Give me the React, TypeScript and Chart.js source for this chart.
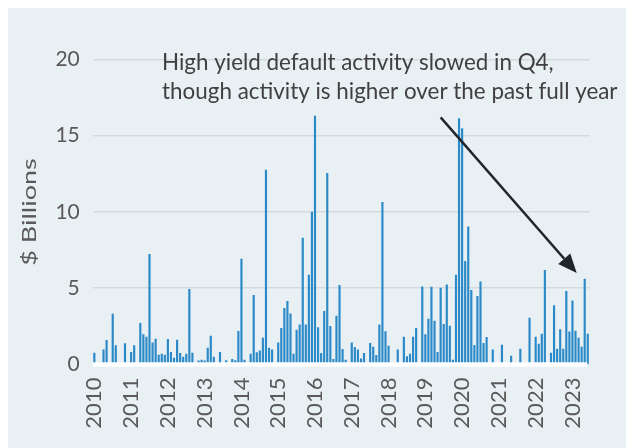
import { useEffect, useRef } from "react";
import { Chart, registerables } from "chart.js";

Chart.register(...registerables);

const years = ["2010","2011","2012","2013","2014","2015","2016","2017","2018","2019","2020","2021","2022","2023"];
const monthNames = ["01","02","03","04","05","06","07","08","09","10","11","12"];

// Monthly high yield default volume, $ billions (Jan 2010 - Jun 2023)
const defaultVolume = [
  0.76, 0, 0, 0.96, 1.59, 0, 3.31, 1.24, 0, 0, 1.37, 0,
  0.8, 1.24, 0, 2.7, 1.96, 1.81, 7.22, 1.43, 1.68, 0.63, 0.69, 0.63,
  1.66, 0.8, 0.43, 1.61, 0.74, 0.5, 0.69, 4.93, 0.76, 0, 0.24, 0.3,
  0.24, 1.09, 1.87, 0.5, 0, 0.8, 0, 0.26, 0, 0.35, 0.26, 2.18,
  6.92, 0.3, 0, 0.69, 4.54, 0.78, 0.91, 1.74, 12.74, 1.09, 0.96, 0,
  1.43, 2.38, 3.69, 4.14, 3.33, 0.69, 2.27, 2.61, 8.29, 2.61, 5.87, 10.0,
  16.28, 2.42, 0.74, 3.49, 12.53, 2.5, 0.35, 3.18, 5.19, 1.0, 0.3, 0,
  1.43, 1.13, 0.96, 0.37, 0.74, 0, 1.39, 1.15, 0.61, 2.61, 10.63, 2.16,
  1.22, 0, 0, 0.96, 0, 1.81, 0.52, 0.69, 1.81, 2.38, 0, 5.1,
  1.96, 2.99, 5.08, 2.86, 0.8, 5.02, 2.64, 5.23, 2.53, 0.3, 5.86, 16.13,
  15.47, 6.77, 9.03, 4.86, 1.26, 4.47, 5.43, 1.39, 1.79, 0, 0.96, 0,
  0, 1.28, 0, 0, 0.56, 0, 0, 1.02, 0, 0, 3.05, 0,
  1.81, 1.35, 2.0, 6.17, 0, 0.76, 3.86, 1.02, 2.29, 1.02, 4.8, 2.14,
  4.18, 2.2, 1.74, 1.15, 5.6, 2.0,
];

const yMin = 0;
const yMax = 20;
const yStep = 5;
const yTitle = "$ Billions";
const noteLines = [
  "High yield default activity slowed in Q4,",
  "though activity is higher over the past full year",
];
// annotation anchors in data space: [category index, value]
const noteAnchor = [22.1, 19.8];
const noteLine2Value = 17.85;
const arrowFrom = [113, 16.2];
const arrowTo = [157.4, 6.0];

const categories = defaultVolume.map(
  (_, i) => `${years[Math.floor(i / 12)]}-${monthNames[i % 12]}`
);

const FONT = "Lato, 'Open Sans', sans-serif";

export default function App() {
  const ref = useRef<HTMLCanvasElement | null>(null);

  useEffect(() => {
    if (!ref.current) return;

    const overlay = {
      id: "overlay",
      afterDatasetsDraw(chart: any) {
        const { ctx, chartArea } = chart;
        ctx.save();
        ctx.strokeStyle = "#ffffff";
        ctx.lineWidth = 4.5;
        ctx.beginPath();
        ctx.moveTo(chartArea.left, chartArea.bottom);
        ctx.lineTo(chartArea.right - 2, chartArea.bottom);
        ctx.stroke();
        ctx.restore();
      },
      afterDraw(chart: any) {
        const { ctx, chartArea } = chart;
        const xs = chart.scales.x;
        const ys = chart.scales.y;
        ctx.save();

        // y axis title (rotated, slightly elongated)
        ctx.save();
        ctx.translate(22, (chartArea.top + chartArea.bottom) / 2);
        ctx.rotate(-Math.PI / 2);
        ctx.scale(1.42, 1);
        ctx.fillStyle = "#595959";
        ctx.font = `19px ${FONT}`;
        ctx.textAlign = "center";
        ctx.textBaseline = "middle";
        ctx.fillText(yTitle, 0, 0);
        ctx.restore();

        ctx.fillStyle = "#404040";
        ctx.font = `22.4px ${FONT}`;
        ctx.textBaseline = "middle";
        ctx.textAlign = "left";
        const tx = xs.getPixelForValue(noteAnchor[0]);
        ctx.fillText(noteLines[0], tx, ys.getPixelForValue(noteAnchor[1]));
        ctx.fillText(noteLines[1], tx, ys.getPixelForValue(noteLine2Value));

        const x1 = xs.getPixelForValue(arrowFrom[0]);
        const y1 = ys.getPixelForValue(arrowFrom[1]);
        const x2 = xs.getPixelForValue(arrowTo[0]);
        const y2 = ys.getPixelForValue(arrowTo[1]);
        const ang = Math.atan2(y2 - y1, x2 - x1);
        const headLen = 19;
        const headHalf = 8;
        const bx = x2 - headLen * Math.cos(ang);
        const by = y2 - headLen * Math.sin(ang);
        ctx.strokeStyle = "#1e252b";
        ctx.fillStyle = "#1e252b";
        ctx.lineWidth = 2.5;
        ctx.beginPath();
        ctx.moveTo(x1, y1);
        ctx.lineTo(bx, by);
        ctx.stroke();
        ctx.beginPath();
        ctx.moveTo(x2, y2);
        ctx.lineTo(bx + headHalf * Math.sin(ang), by - headHalf * Math.cos(ang));
        ctx.lineTo(bx - headHalf * Math.sin(ang), by + headHalf * Math.cos(ang));
        ctx.closePath();
        ctx.fill();
        ctx.restore();
      },
    };

    const chart = new Chart(ref.current, {
      type: "bar",
      data: {
        labels: categories,
        datasets: [
          {
            data: defaultVolume,
            backgroundColor: "#2b89c8",
            borderWidth: 0,
            barThickness: 1.5,
          },
        ],
      },
      options: {
        animation: false,
        responsive: false,
        maintainAspectRatio: false,
        layout: { padding: { left: 0, right: 44.7, top: 51.4, bottom: 0 } },
        plugins: {
          legend: { display: false },
          tooltip: { enabled: false },
        },
        scales: {
          x: {
            type: "category",
            offset: true,
            grid: { display: false, drawTicks: false },
            border: { display: false },
            ticks: {
              autoSkip: false,
              maxRotation: 90,
              minRotation: 90,
              padding: 13,
              color: "#595959",
              font: { family: FONT, size: 22 },
              callback: (_v: any, i: number) => (i % 12 === 0 ? years[i / 12] : ""),
            },
            afterFit: (s: any) => {
              s.height = 83.4;
            },
          },
          y: {
            min: yMin,
            max: yMax,
            ticks: {
              stepSize: yStep,
              padding: 13,
              color: "#595959",
              font: { family: FONT, size: 21 },
            },
            grid: {
              drawTicks: false,
              color: (c: any) => (c.tick && c.tick.value === 0 ? "rgba(0,0,0,0)" : "#d6d9db"),
              lineWidth: 1.6,
            },
            border: { display: false },
            title: { display: false },
            afterFit: (s: any) => {
              s.width = 84.8;
            },
          },
        },
      },
      plugins: [overlay],
    });

    return () => chart.destroy();
  }, []);

  return (
    <div style={{ width: 626, height: 440, background: "#e8f0f4" }}>
      <canvas ref={ref} width={626} height={440} style={{ display: "block" }} />
    </div>
  );
}
